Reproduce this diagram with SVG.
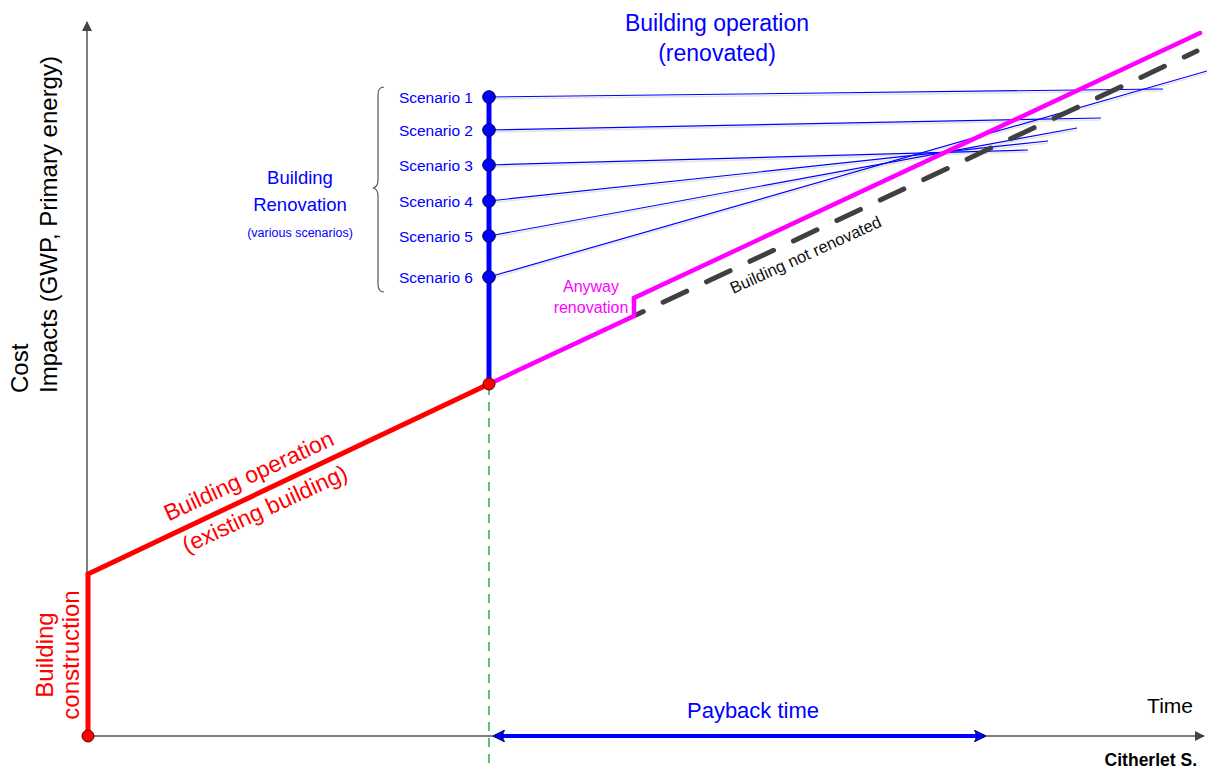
<svg xmlns="http://www.w3.org/2000/svg" width="1207" height="769" viewBox="0 0 1207 769">
<style>
text{font-family:"Liberation Sans",Arial,sans-serif}
.blue{fill:#0000FF}
.red{fill:#FF0000}
.mag{fill:#FF00FF}
.scn{fill:#0000FF;font-size:15.5px;text-anchor:end}
.sl{stroke:#0000FF;stroke-width:1.2;fill:none}
.sh{stroke:#e4e4e4;stroke-width:1.6;fill:none}
.axis{stroke:#555;stroke-width:1.5;fill:none}
.dot{fill:#0000FF;stroke:#000050;stroke-width:1}
</style>
<defs>
<marker id="ax" viewBox="0 0 10 10" refX="9" refY="5" markerWidth="10" markerHeight="10" markerUnits="userSpaceOnUse" orient="auto">
<path d="M0,0 L10,5 L0,10 Z" fill="#444"/>
</marker>
<marker id="pb" viewBox="0 0 10 10" refX="8" refY="5" markerWidth="3" markerHeight="3" orient="auto-start-reverse">
<path d="M0,0 L10,5 L0,10 L2,5 Z" fill="#0000FF" stroke="#000040" stroke-width="0.6"/>
</marker>
</defs>

<g id="axes">
<line class="axis" x1="87" y1="736" x2="87" y2="22" marker-end="url(#ax)"/>
<line class="axis" x1="87" y1="736" x2="1204" y2="736" marker-end="url(#ax)"/>
</g>

<g id="connectors">
<line x1="489" y1="386" x2="489" y2="769" stroke="#22B14C" stroke-width="1.5" stroke-dasharray="9,7"/>
<!-- scenario shadows -->
<line class="sh" x1="489" y1="99" x2="1163" y2="91"/>
<line class="sh" x1="489" y1="132" x2="1101" y2="120"/>
<line class="sh" x1="489" y1="167" x2="1028" y2="152"/>
<line class="sh" x1="489" y1="203" x2="1048" y2="143"/>
<line class="sh" x1="489" y1="238" x2="1077" y2="130"/>
<line class="sh" x1="489" y1="279" x2="1207" y2="73"/>
<!-- scenario lines -->
<line class="sl" x1="489" y1="97" x2="1163" y2="89"/>
<line class="sl" x1="489" y1="130" x2="1101" y2="118"/>
<line class="sl" x1="489" y1="165" x2="1028" y2="150" stroke-width="2.2"/>
<line class="sl" x1="489" y1="201" x2="1048" y2="141"/>
<line class="sl" x1="489" y1="236" x2="1077" y2="128"/>
<line class="sl" x1="489" y1="277" x2="1207" y2="71"/>
<!-- not renovated dashed -->
<line x1="636" y1="315" x2="1197" y2="51" stroke="#404040" stroke-width="5" stroke-dasharray="26,22" stroke-dashoffset="162" stroke-linecap="round"/>
<!-- anyway renovation magenta -->
<polyline points="489,384 634,316 634,298 1200,33" fill="none" stroke="#FF00FF" stroke-width="4.5" stroke-linejoin="miter" stroke-linecap="round"/>
<!-- red existing -->
<polyline points="88,736 88,574 489,384" fill="none" stroke="#FF0000" stroke-width="5"/>
<!-- blue renovation vertical -->
<line x1="489" y1="384" x2="489" y2="97" stroke="#0000FF" stroke-width="5"/>
<!-- payback arrow -->
<line x1="495" y1="736" x2="984" y2="736" stroke="#0000FF" stroke-width="4" marker-start="url(#pb)" marker-end="url(#pb)"/>
<!-- brace -->
<path d="M384,87 Q378,87 378,95 L378,180 Q378,187 373,188 Q378,189 378,196 L378,284 Q378,292 384,292" fill="none" stroke="#555" stroke-width="1.2"/>
</g>

<g id="dots">
<circle class="dot" cx="489" cy="97" r="6.3"/>
<circle class="dot" cx="489" cy="130" r="6.3"/>
<circle class="dot" cx="489" cy="165" r="6.3"/>
<circle class="dot" cx="489" cy="201" r="6.3"/>
<circle class="dot" cx="489" cy="236" r="6.3"/>
<circle class="dot" cx="489" cy="277" r="6.3"/>
<circle cx="489" cy="384" r="6" fill="#FF0000" stroke="#600000" stroke-width="1"/>
<circle cx="88" cy="736" r="6" fill="#FF0000" stroke="#600000" stroke-width="1"/>
</g>

<g id="scenarios">
<text class="scn" x="473" y="103">Scenario 1</text>
<text class="scn" x="473" y="136">Scenario 2</text>
<text class="scn" x="473" y="171">Scenario 3</text>
<text class="scn" x="473" y="207">Scenario 4</text>
<text class="scn" x="473" y="242">Scenario 5</text>
<text class="scn" x="473" y="283">Scenario 6</text>
</g>

<g id="renovation-label" text-anchor="middle">
<text class="blue" x="300" y="184" font-size="18.5">Building</text>
<text class="blue" x="300" y="211" font-size="18.5">Renovation</text>
<text class="blue" x="300" y="237" font-size="12.5">(various scenarios)</text>
</g>

<g id="operation-renovated" text-anchor="middle">
<text class="blue" x="717" y="31" font-size="23">Building operation</text>
<text class="blue" x="717" y="61" font-size="23">(renovated)</text>
</g>

<g id="operation-existing" text-anchor="middle">
<text class="red" x="252" y="483" font-size="23" transform="rotate(-24.8 252 483)">Building operation</text>
<text class="red" x="268" y="516" font-size="23" transform="rotate(-24.8 268 516)">(existing building)</text>
</g>

<g id="construction" text-anchor="middle">
<text class="red" x="53" y="655" font-size="24" transform="rotate(-90 53 655)">Building</text>
<text class="red" x="79" y="655" font-size="24" transform="rotate(-90 79 655)">construction</text>
</g>

<g id="anyway" text-anchor="middle">
<text class="mag" x="591" y="292" font-size="16">Anyway</text>
<text class="mag" x="591" y="313" font-size="16">renovation</text>
</g>

<g id="not-renovated">
<text x="808" y="260" font-size="16.5" fill="#111" text-anchor="middle" transform="rotate(-24.5 808 260)">Building not renovated</text>
</g>

<g id="y-label">
<text x="28" y="393" font-size="24" fill="#000" transform="rotate(-90 28 393)">Cost</text>
<text x="57" y="393" font-size="24" fill="#000" transform="rotate(-90 57 393)">Impacts (GWP, Primary energy)</text>
</g>

<g id="x-label">
<text x="1193" y="713" font-size="21" fill="#000" text-anchor="end">Time</text>
<text class="blue" x="753" y="718" font-size="22" text-anchor="middle">Payback time</text>
<text x="1197" y="766" font-size="17.5" font-weight="bold" fill="#000" text-anchor="end">Citherlet S.</text>
</g>
</svg>
